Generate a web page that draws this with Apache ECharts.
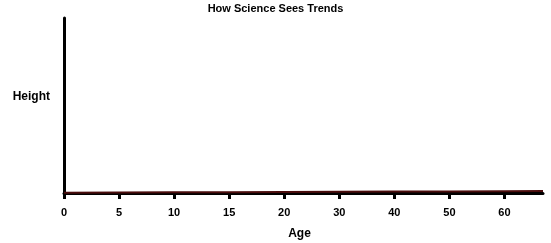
<!DOCTYPE html>
<html><head><meta charset="utf-8">
<script src="https://cdn.jsdelivr.net/npm/echarts@6/dist/echarts.min.js"></script>
<style>html,body{margin:0;padding:0;background:#fff}#c{width:551px;height:243px}</style>
</head><body><div id="c"></div>
<script>
var tickLabels = ['0','5','10','15','20','30','40','50','60'];
var tickPositions = [0,1,2,3,4,5,6,7,8];
var lineX = [0,1,2,3,4,5,6,7,8,8.7];
var heights = [0.2,0.3,0.4,0.5,0.6,0.7,0.8,0.9,1.0,1.1];

var chart = echarts.init(document.getElementById('c'), null, {renderer:'canvas'});
var font = 'Liberation Sans, Arial, sans-serif';
chart.setOption({
  backgroundColor:'#ffffff',
  animation:false,
  title:{text:'How Science Sees Trends',left:'center',top:3,padding:0,
    textStyle:{fontFamily:font,fontSize:11,fontWeight:'bold',color:'#000'}},
  grid:{left:64,right:8,top:18,bottom:50,containLabel:false,outerBoundsMode:'none'},
  xAxis:{type:'value',min:0,max:8.7,
    name:'Age',nameLocation:'middle',nameGap:35,
    nameTextStyle:{fontFamily:font,fontSize:12,fontWeight:'bold',color:'#000',padding:[0,8,0,0]},
    axisLine:{show:true,onZero:false,lineStyle:{color:'#000',width:3}},
    axisTick:{show:true,customValues:tickPositions,length:6,lineStyle:{color:'#000',width:3}},
    axisLabel:{customValues:tickPositions,margin:14,fontFamily:font,fontSize:11,fontWeight:'bold',color:'#000',
      formatter:function(v){return tickLabels[Math.round(v)];}},
    splitLine:{show:false}},
  yAxis:{type:'value',min:0,max:100,
    name:'Height',nameLocation:'middle',nameRotate:0,nameGap:14,
    nameTextStyle:{fontFamily:font,fontSize:12,fontWeight:'bold',color:'#000',verticalAlign:'bottom',padding:[0,0,3,0]},
    axisLine:{show:true,lineStyle:{color:'#000',width:3}},
    axisTick:{show:false},axisLabel:{show:false},splitLine:{show:false}},
  series:[{type:'line',data:lineX.map(function(x,i){return [x,heights[i]];}),
    showSymbol:false,symbol:'none',lineStyle:{color:'#4a0c0c',width:2}}]
});
</script></body></html>
